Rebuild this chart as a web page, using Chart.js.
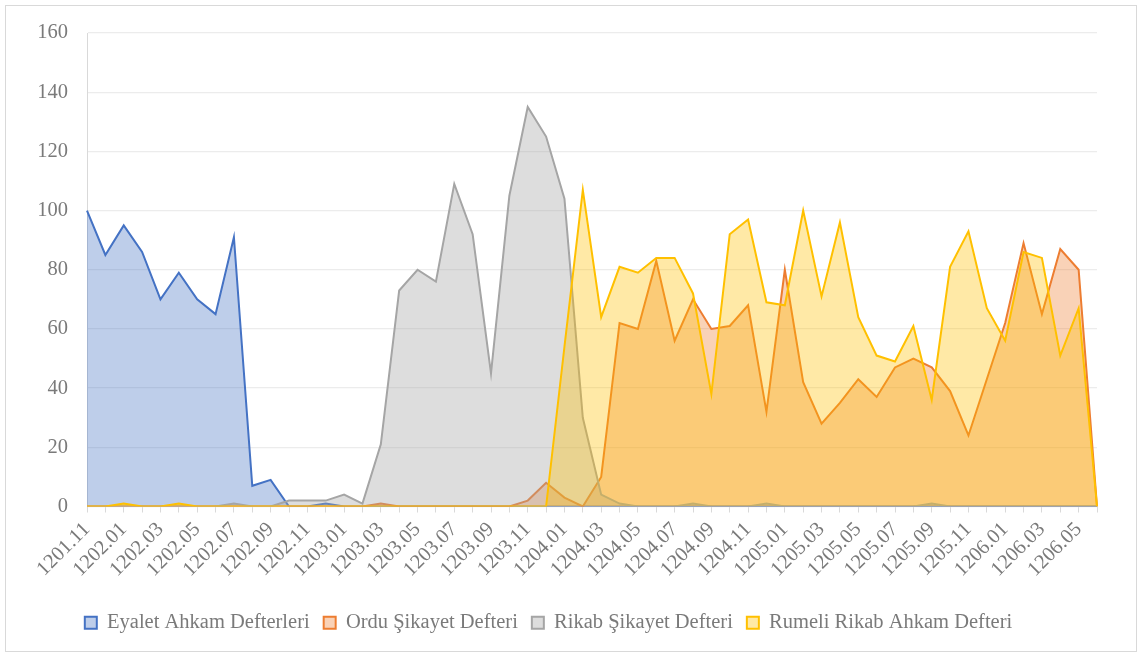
<!DOCTYPE html>
<html><head><meta charset="utf-8">
<script src="https://cdn.jsdelivr.net/npm/chart.js@4.4.1/dist/chart.umd.min.js"></script>
<style>
html,body{margin:0;padding:0;background:#fff;}
#wrap{position:relative;width:1141px;height:657px;}
#frame{position:absolute;left:5px;top:5px;width:1132px;height:647px;border:1px solid #d9d9d9;box-sizing:border-box;}
canvas{position:absolute;left:0;top:0;}
</style></head><body>
<div id="wrap"><div id="frame"></div><canvas id="c" width="1141" height="657"></canvas></div>
<script>
const categories = [
 "1201.11","1201.12",
 "1202.01","1202.02","1202.03","1202.04","1202.05","1202.06","1202.07","1202.08","1202.09","1202.10","1202.11","1202.12",
 "1203.01","1203.02","1203.03","1203.04","1203.05","1203.06","1203.07","1203.08","1203.09","1203.10","1203.11","1203.12",
 "1204.01","1204.02","1204.03","1204.04","1204.05","1204.06","1204.07","1204.08","1204.09","1204.10","1204.11","1204.12",
 "1205.01","1205.02","1205.03","1205.04","1205.05","1205.06","1205.07","1205.08","1205.09","1205.10","1205.11","1205.12",
 "1206.01","1206.02","1206.03","1206.04","1206.05","1206.06"
];
const seriesNames = ["Eyalet Ahkam Defterleri","Ordu Şikayet Defteri","Rikab Şikayet Defteri","Rumeli Rikab Ahkam Defteri"];
const eyalet = [100,85,95,86,70,79,70,65,91,7,9,0,0,1,0,0,0,0,0,0,0,0,0,0,0,0,0,0,0,0,0,0,0,0,0,0,0,0,0,0,0,0,0,0,0,0,0,0,0,0,0,0,0,0,0,0];
const ordu = [0,0,0,0,0,0,0,0,0,0,0,0,0,0,0,0,1,0,0,0,0,0,0,0,2,8,3,0,10,62,60,83,56,70,60,61,68,32,80,42,28,35,43,37,47,50,47,39,24,43,62,89,65,87,80,0];
const rikab = [0,0,0,0,0,0,0,0,1,0,0,2,2,2,4,1,21,73,80,76,109,92,45,105,135,125,104,30,4,1,0,0,0,1,0,0,0,1,0,0,0,0,0,0,0,0,1,0,0,0,0,0,0,0,0,0];
const rumeli = [0,0,1,0,0,1,0,0,0,0,0,0,0,0,0,0,0,0,0,0,0,0,0,0,0,0,54,107,64,81,79,84,84,72,38,92,97,69,68,100,71,96,64,51,49,61,36,81,93,67,56,86,84,51,67,0];
const yTicks = [0,20,40,60,80,100,120,140,160];

const textColor = '#7a7a7a';
const fontFam = '"Liberation Serif","Times New Roman",serif';
const fs = 20.5;
function ds(label, data, line, fill, order){
  return {label, data, borderColor: line, backgroundColor: fill, borderWidth: 2,
    fill: 'origin', pointRadius: 0, pointHoverRadius: 0, tension: 0, order};
}
new Chart(document.getElementById('c'), {
  type: 'line',
  data: {
    labels: categories,
    datasets: [
      ds(seriesNames[0], eyalet, '#4472C4', 'rgba(68,114,196,0.35)', 4),
      ds(seriesNames[1], ordu, '#ED7D31', 'rgba(237,125,49,0.35)', 3),
      ds(seriesNames[2], rikab, '#A5A5A5', 'rgba(165,165,165,0.38)', 2),
      ds(seriesNames[3], rumeli, '#FFC000', 'rgba(255,192,0,0.35)', 1)
    ]
  },
  options: {
    responsive: false,
    animation: false,
    layout: {padding: {left: 0, top: 33, right: 44, bottom: 14}},
    plugins: {
      tooltip: {enabled: false},
      legend: {
        position: 'bottom',
        labels: {
          sort: (a, b) => a.datasetIndex - b.datasetIndex,
          boxWidth: 12, boxHeight: 12, padding: 14,
          color: textColor,
          font: {family: fontFam, size: fs}
        }
      }
    },
    scales: {
      x: {
        offset: false,
        grid: {drawOnChartArea: false, drawTicks: true, tickLength: 6, color: '#d9d9d9'},
        border: {color: '#d9d9d9', width: 1},
        ticks: {
          autoSkip: false, minRotation: 45, maxRotation: 45, padding: 5,
          color: textColor, font: {family: fontFam, size: fs},
          callback: function(v, i){ return i % 2 === 0 ? categories[i] : ''; }
        },
        afterFit: s => { s.height = 92; }
      },
      y: {
        min: 0, max: 160,
        afterBuildTicks: s => { s.ticks = yTicks.map(v => ({value: v})); },
        grid: {drawTicks: false, color: '#ececec', lineWidth: 1.3},
        border: {display: true, color: '#d9d9d9', width: 1},
        ticks: {padding: 19, color: textColor, font: {family: fontFam, size: fs}},
        afterFit: s => { s.width = 87; }
      }
    }
  }
});
</script>
</body></html>
